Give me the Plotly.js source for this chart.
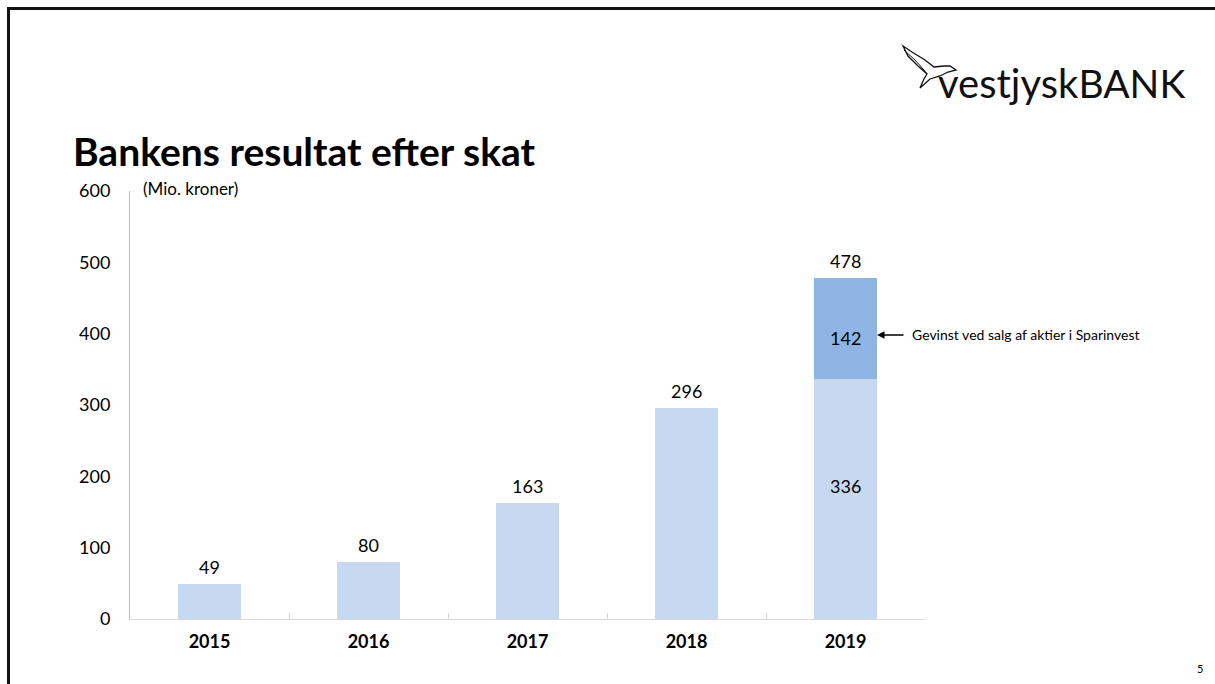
<!DOCTYPE html>
<html>
<head>
<meta charset="utf-8">
<script src="https://cdn.plot.ly/plotly-3.0.1.min.js"></script>
<style>
  html, body { margin: 0; padding: 0; background: #fff; }
  #wrap { position: relative; width: 1215px; height: 684px; overflow: hidden; }
  #chart { position: absolute; left: 0; top: 0; width: 1215px; height: 684px; }
  #frame { position: absolute; left: 7px; top: 7px; right: -10px; bottom: -10px;
           border-left: 3px solid #111; border-top: 3px solid #111; pointer-events: none; }
</style>
</head>
<body>
<div id="wrap">
  <div id="chart"></div>
  <div id="frame"></div>
</div>
<script>
// ---- data ----
const years = ["2015", "2016", "2017", "2018", "2019"];
const baseResult = [49, 80, 163, 296, 336];
const sparinvestGain = [null, null, null, null, 142];
const totals = [49, 80, 163, 296, 478];
const yTicks = [0, 100, 200, 300, 400, 500, 600];

const FONT = "Lato, 'Open Sans', sans-serif";

// pixel -> paper helpers (plot area: x 130..925, y 619..191)
const L = 130, R = 925, T = 191, B = 619;
const px = x => (x - L) / (R - L);
const py = y => (B - y) / (B - T);

const baseTrace = {
  type: "bar", x: years, y: baseResult,
  marker: { color: "#c6d9f1" }, hoverinfo: "skip"
};
const gainTrace = {
  type: "bar", x: years, y: sparinvestGain,
  marker: { color: "#8eb4e3" }, hoverinfo: "skip"
};

const labelFont = { family: FONT, size: 18, color: "#000" };
const annotations = [];
years.forEach((yr, i) => {
  // total above each bar
  annotations.push({
    x: i, y: totals[i], xref: "x", yref: "y", text: String(totals[i]),
    showarrow: false, yanchor: "bottom", yshift: 4, font: labelFont
  });
  // segment labels inside stacked bar
  if (sparinvestGain[i]) {
    annotations.push({
      x: i, y: baseResult[i] / 2, xref: "x", yref: "y", text: String(baseResult[i]),
      showarrow: false, yanchor: "middle", yshift: 13, font: labelFont
    });
    annotations.push({
      x: i, y: baseResult[i] + sparinvestGain[i] / 2, xref: "x", yref: "y",
      text: String(sparinvestGain[i]),
      showarrow: false, yanchor: "middle", yshift: -9, font: labelFont
    });
  }
});
// arrow annotation
annotations.push({
  x: px(877), y: py(335), xref: "paper", yref: "paper",
  text: "", showarrow: true, arrowhead: 2, arrowsize: 1, arrowwidth: 1.5, arrowcolor: "#000",
  ax: 28, ay: 0
});
annotations.push({
  x: px(910), y: py(334), xref: "paper", yref: "paper", xanchor: "left", yanchor: "middle",
  text: "Gevinst ved salg af aktier i Sparinvest", showarrow: false,
  font: { family: FONT, size: 14, color: "#000" }
});
// title
annotations.push({
  x: px(71), y: py(151), xref: "paper", yref: "paper", xanchor: "left", yanchor: "middle",
  text: "<b>Bankens resultat efter skat</b>", showarrow: false,
  font: { family: FONT, size: 39, color: "#000" }
});
// unit
annotations.push({
  x: px(141), y: py(189), xref: "paper", yref: "paper", xanchor: "left", yanchor: "middle",
  text: "(Mio. kroner)", showarrow: false,
  font: { family: FONT, size: 17, color: "#000" }
});
// logo text
annotations.push({
  x: px(936), y: py(83), xref: "paper", yref: "paper", xanchor: "left", yanchor: "middle",
  text: "vestjysk<span style='font-size:39px'>BANK</span>", showarrow: false,
  font: { family: FONT, size: 40, color: "#111" }
});
// page number
annotations.push({
  x: px(1200), y: py(668), xref: "paper", yref: "paper", xanchor: "center", yanchor: "middle",
  text: "5", showarrow: false, font: { family: FONT, size: 11, color: "#000" }
});

// bird outline for logo
const birdPts = [[903,46],[912,52],[925,60],[934,67],[944,66],[950,66],[956,70],[948,72],[940,76],[930,79],[920,88],[924,79],[927,74],[918,66],[908,56],[903,46]];
const birdPath = birdPts.map((p, i) => (i ? "L" : "M") + px(p[0]).toFixed(4) + "," + py(p[1]).toFixed(4)).join(" ") + " Z";
const birdWing = [[904,50],[915,60],[924,70],[927,74]];
const wingPath = birdWing.map((p, i) => (i ? "L" : "M") + px(p[0]).toFixed(4) + "," + py(p[1]).toFixed(4)).join(" ");

const layout = {
  width: 1215, height: 684,
  margin: { l: L, r: 1215 - R, t: T, b: 684 - B, pad: 0 },
  paper_bgcolor: "#fff", plot_bgcolor: "#fff",
  barmode: "stack", bargap: 0.6,
  showlegend: false,
  font: { family: FONT, color: "#000" },
  xaxis: {
    type: "category", range: [-0.5, 4.5], autorange: false,
    showgrid: false, zeroline: false,
    showline: true, linecolor: "#d9d9d9", linewidth: 1,
    ticks: "inside", tickson: "boundaries", ticklen: 6, tickcolor: "#d9d9d9",
    tickfont: { family: FONT, size: 18, color: "#000", weight: "bold" },
    ticklabelstandoff: 6, fixedrange: true
  },
  yaxis: {
    range: [0, 600], autorange: false, tickvals: yTicks, ticktext: yTicks.map(String),
    showgrid: false, zeroline: false, showline: true, linecolor: "#bfbfbf", linewidth: 1,
    ticks: "", tickfont: { family: FONT, size: 18, color: "#000" },
    ticklabelstandoff: 15, fixedrange: true
  },
  annotations: annotations,
  shapes: [
    { type: "path", xref: "paper", yref: "paper", path: birdPath,
      line: { color: "#111", width: 1.3 }, fillcolor: "rgba(255,255,255,1)" },
    { type: "path", xref: "paper", yref: "paper", path: wingPath,
      line: { color: "#111", width: 1 } }
  ]
};

Plotly.newPlot("chart", [baseTrace, gainTrace], layout, { staticPlot: true, displayModeBar: false });
</script>
</body>
</html>
